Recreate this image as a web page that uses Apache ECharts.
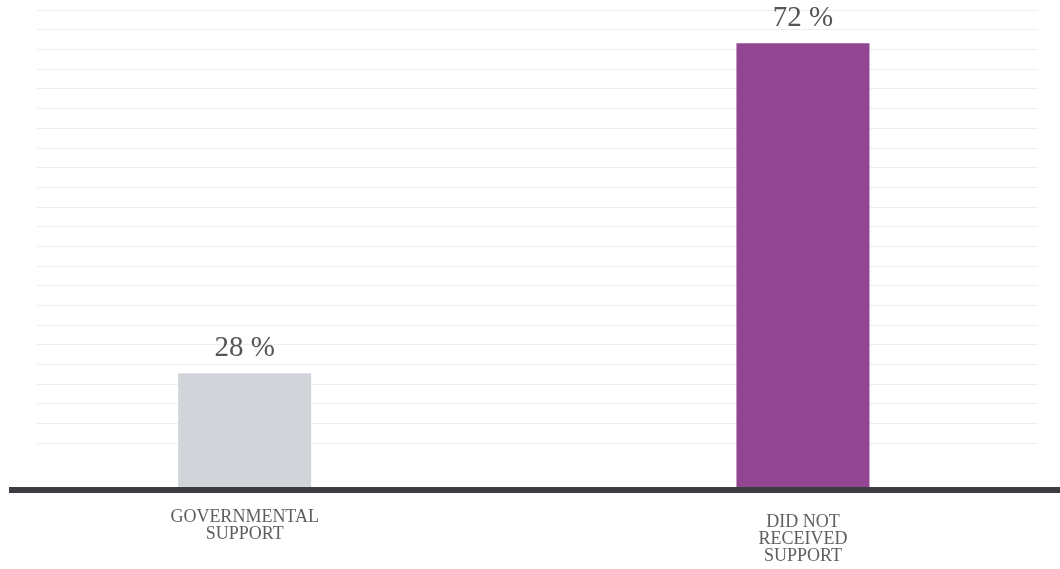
<!DOCTYPE html>
<html>
<head>
<meta charset="utf-8">
<style>
  html, body { margin: 0; padding: 0; background: #ffffff; }
  #chart { width: 1060px; height: 569px; }
</style>
<script src="https://cdn.jsdelivr.net/npm/echarts@6/dist/echarts.min.js"></script>
</head>
<body>
<div id="chart"></div>
<script>
// Share of respondents by support status
const categories = ['GOVERNMENTAL\nSUPPORT', 'DID NOT\nRECEIVED\nSUPPORT'];
const shares = [28, 72];
const barColors = ['#d1d5da', '#924692'];

const serif = '"Liberation Serif", "DejaVu Serif", serif';

const chart = echarts.init(document.getElementById('chart'), null, { renderer: 'canvas' });

chart.setOption({
  animation: false,
  backgroundColor: '#ffffff',
  grid: [
    // bars (band wider than the canvas so the two bars sit off-centre)
    { left: -34.5, right: -22.1, top: 10, bottom: 79.5, outerBoundsMode: 'none', containLabel: false },
    // light horizontal guide lines
    { left: 37, right: 22, top: 10, bottom: 126, outerBoundsMode: 'none' },
    // dark baseline
    { left: 9, right: 0, top: 470, bottom: 79.5, outerBoundsMode: 'none' }
  ],
  xAxis: [
    {
      gridIndex: 0,
      type: 'category',
      data: categories,
      axisLine: { show: false },
      axisTick: { show: false },
      splitLine: { show: false },
      axisLabel: {
        interval: 0,
        margin: 19,
        color: '#5e5e5e',
        verticalAlign: 'top',
        formatter: (v, i) => {
          const lines = v.split('\n').map(l => '{t|' + l + '}').join('\n');
          return i === 1 ? '{s| }\n' + lines : lines;
        },
        rich: {
          t: { fontFamily: serif, fontSize: 18, lineHeight: 17, color: '#5e5e5e' },
          s: { fontSize: 4, lineHeight: 5 }
        }
      }
    },
    {
      gridIndex: 1,
      type: 'value',
      show: false
    },
    {
      gridIndex: 2,
      type: 'value',
      z: 10,
      axisLine: { show: true, lineStyle: { color: '#3d3e42', width: 6, cap: 'butt' } },
      axisTick: { show: false },
      axisLabel: { show: false },
      splitLine: { show: false }
    }
  ],
  yAxis: [
    {
      gridIndex: 0,
      type: 'value',
      min: 12.5,
      max: 76.45,
      show: false
    },
    {
      gridIndex: 1,
      type: 'value',
      min: 0,
      max: 22,
      interval: 1,
      axisLine: { show: false },
      axisTick: { show: false },
      axisLabel: { show: false },
      splitLine: { show: true, lineStyle: { color: '#eeeeee', width: 1.2 } }
    },
    {
      gridIndex: 2,
      type: 'value',
      show: false
    }
  ],
  series: [
    {
      type: 'bar',
      xAxisIndex: 0,
      yAxisIndex: 0,
      data: shares.map((v, i) => ({ value: v, itemStyle: { color: barColors[i] } })),
      barWidth: 133,
      label: {
        show: true,
        position: 'top',
        distance: 10,
        formatter: p => p.value + ' %',
        fontFamily: serif,
        fontSize: 29,
        color: '#555555'
      }
    }
  ]
});
</script>
</body>
</html>
